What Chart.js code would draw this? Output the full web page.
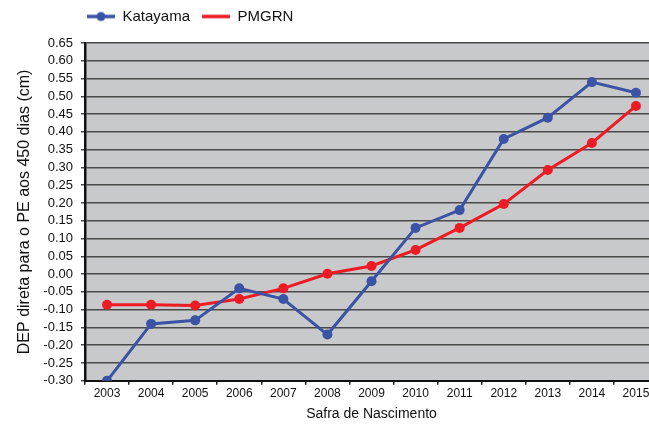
<!DOCTYPE html>
<html>
<head>
<meta charset="utf-8">
<script src="https://cdn.jsdelivr.net/npm/chart.js@4.4.1/dist/chart.umd.min.js"></script>
<style>
  html, body { margin: 0; padding: 0; background: #fff; overflow: hidden; width: 649px; height: 425px; }
  #wrap { position: relative; width: 663px; height: 425px; }
</style>
</head>
<body>
<div id="wrap"><canvas id="c" width="663" height="425"></canvas></div>
<script>
const categories = ['2003','2004','2005','2006','2007','2008','2009','2010','2011','2012','2013','2014','2015'];
const katayama = [-0.30, -0.14, -0.13, -0.04, -0.07, -0.17, -0.02, 0.13, 0.18, 0.38, 0.44, 0.54, 0.51];
const pmgrn = [-0.086, -0.086, -0.088, -0.07, -0.04, 0.001, 0.023, 0.068, 0.13, 0.197, 0.293, 0.369, 0.473];
const seriesNames = ['Katayama', 'PMGRN'];
const yTitle = 'DEP direta para o PE aos 450 dias (cm)';
const xTitle = 'Safra de Nascimento';

const BLUE = '#3A53A4';
const RED = '#ED1C24';
const FONT = '"Liberation Sans", Arial, Helvetica, sans-serif';

function legendIcon(color, marker) {
  const cv = document.createElement('canvas');
  cv.width = 28; cv.height = 12;
  const g = cv.getContext('2d');
  g.strokeStyle = color; g.lineWidth = 3.5;
  g.beginPath(); g.moveTo(0, 6); g.lineTo(28, 6); g.stroke();
  if (marker) {
    g.fillStyle = color;
    g.beginPath(); g.arc(14, 6, 4.5, 0, Math.PI * 2); g.fill();
  }
  return cv;
}
const icons = [legendIcon(BLUE, true), legendIcon(RED, false)];

const plotBg = {
  id: 'plotBg',
  afterLayout(chart) {
    const lg = chart.legend;
    if (lg) {
      const dx = -10, dy = -9;
      lg.left += dx; lg.right += dx; lg.top += dy; lg.bottom += dy;
    }
  },
  beforeDraw(chart) {
    const a = chart.chartArea, ctx = chart.ctx;
    ctx.save();
    ctx.fillStyle = '#C8C9CB';
    ctx.fillRect(a.left, a.top, a.right - a.left, a.bottom - a.top);
    ctx.restore();
  }
};

new Chart(document.getElementById('c'), {
  type: 'line',
  data: {
    labels: categories,
    datasets: [
      { label: seriesNames[0], data: katayama, borderColor: BLUE, backgroundColor: BLUE,
        borderWidth: 3, pointRadius: 5, pointBackgroundColor: BLUE, pointBorderWidth: 0, tension: 0 },
      { label: seriesNames[1], data: pmgrn, borderColor: RED, backgroundColor: RED,
        borderWidth: 3, pointRadius: 5, pointBackgroundColor: RED, pointBorderWidth: 0, tension: 0 }
    ]
  },
  options: {
    responsive: false,
    animation: false,
    layout: { padding: { left: 0, right: 0, top: 6, bottom: 2 } },
    plugins: {
      legend: {
        position: 'top',
        align: 'start',
        fullSize: false,
        labels: {
          usePointStyle: true,
          pointStyleWidth: 28,
          generateLabels(chart) {
            return chart.data.datasets.map((d, i) => ({
              text: d.label, pointStyle: icons[i], fillStyle: d.borderColor,
              strokeStyle: d.borderColor, lineWidth: 0, hidden: false, datasetIndex: i, fontColor: '#111'
            }));
          },
          font: { family: FONT, size: 15 },
          color: '#111',
          padding: 12,
          boxHeight: 12
        }
      },
      tooltip: { enabled: false }
    },
    scales: {
      x: {
        offset: true,
        grid: { offset: true, drawOnChartArea: false, drawTicks: true, tickLength: 4, color: '#222', lineWidth: 1.5 },
        border: { color: '#111', width: 2 },
        ticks: { font: { family: FONT, size: 12 }, color: '#111', padding: 2, maxRotation: 0, autoSkip: false },
        title: { display: true, text: xTitle, font: { family: FONT, size: 14 }, color: '#111', padding: { top: 3, bottom: 0 } }
      },
      y: {
        min: -0.30,
        max: 0.65,
        afterFit(scale) { scale.width = 85; },
        ticks: {
          stepSize: 0.05,
          autoSkip: false,
          font: { family: FONT, size: 13 },
          color: '#111',
          padding: 8,
          callback(v) { return (Math.round(v * 100) / 100).toFixed(2); }
        },
        grid: { color: '#4a4a4a', lineWidth: 1.5, tickLength: 4, drawTicks: true },
        border: { color: '#111', width: 2.5 },
        title: { display: true, text: yTitle, font: { family: FONT, size: 16 }, color: '#111', padding: { top: 15, bottom: 0 } }
      }
    }
  },
  plugins: [plotBg]
});
</script>
</body>
</html>
